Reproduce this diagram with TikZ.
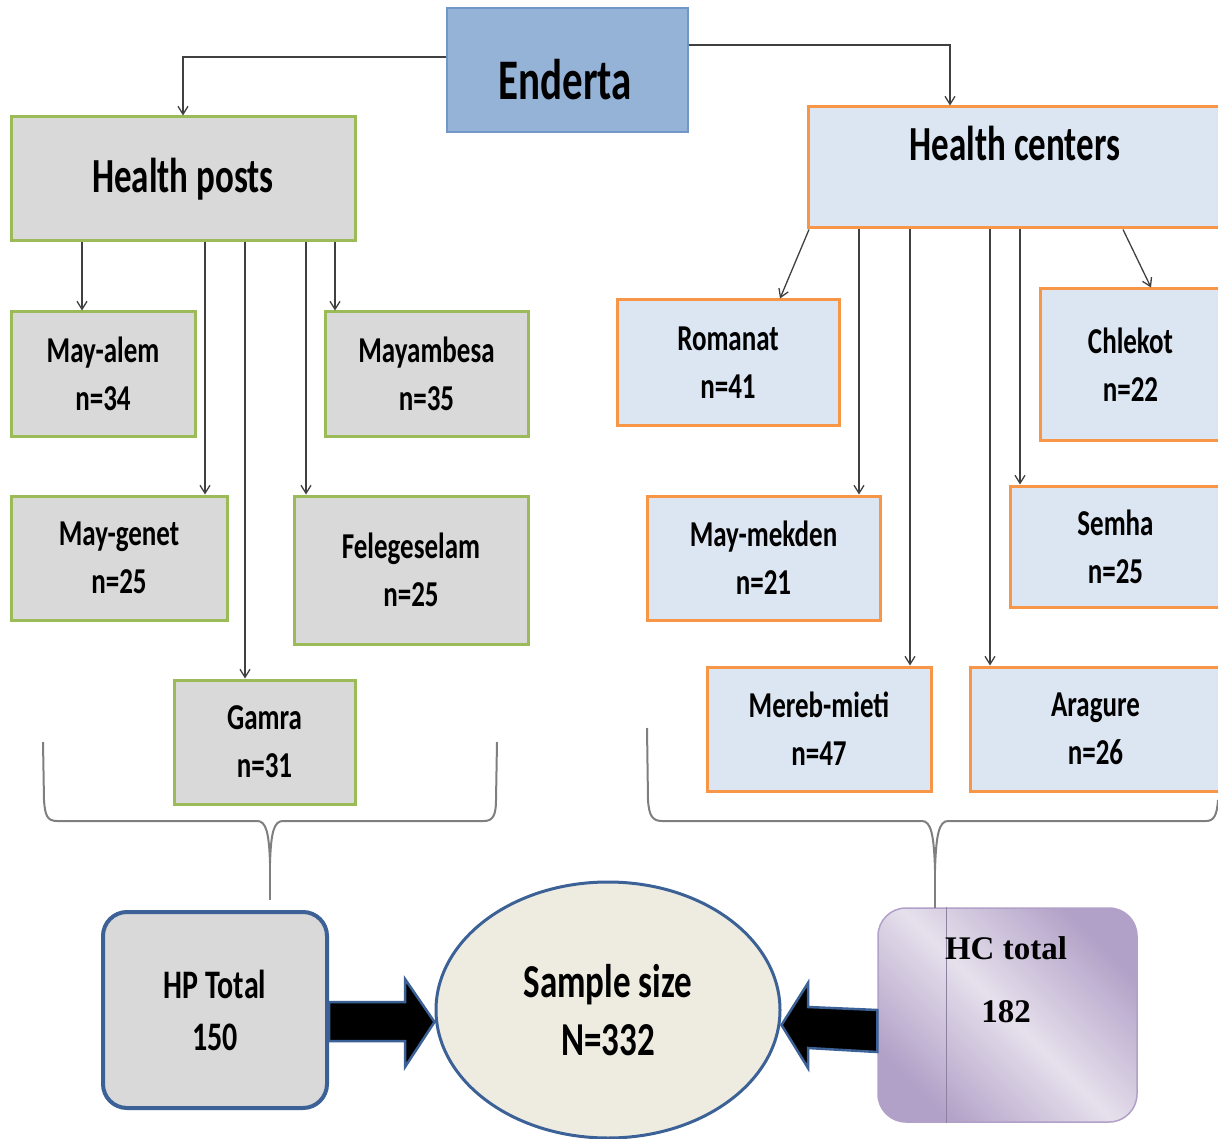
\documentclass[tikz,border=0pt]{standalone}
\usepackage{fontspec}
\setmainfont{Carlito}
\newfontfamily\hcserif{Liberation Serif}
\usepackage{graphicx}
\usetikzlibrary{arrows.meta,shapes.geometric}
\newcommand\vs[1]{\scalebox{1}[1.35]{#1}}
\definecolor{gfill}{HTML}{D9D9D9}
\definecolor{ggreen}{HTML}{9BBB59}
\definecolor{bfill}{HTML}{DCE6F2}
\definecolor{borange}{HTML}{F79646}
\definecolor{efill}{HTML}{95B3D7}
\definecolor{eline}{HTML}{7396C8}
\definecolor{arrgray}{HTML}{404040}
\definecolor{bracegray}{HTML}{7F7F7F}
\definecolor{dblue}{HTML}{3B6196}
\definecolor{ssfill}{HTML}{EEECE1}
\definecolor{plight}{HTML}{E6E0EC}
\definecolor{pdark}{HTML}{B1A0C7}
\tikzset{
  gbox/.style={draw=ggreen, line width=3pt, fill=gfill, inner sep=0pt, align=center, font=\bfseries\fontsize{27}{48}\selectfont},
  obox/.style={draw=borange, line width=3pt, fill=bfill, inner sep=0pt, align=center, font=\bfseries\fontsize{27}{48}\selectfont},
  arr/.style={draw=arrgray, line width=1.3pt, -{Straight Barb[length=8pt,width=10pt]}},
  bracel/.style={draw=bracegray, line width=2pt},
  blk/.style={fill=black, draw=dblue, line width=2.5pt, line join=miter},
}
\begin{document}
\begin{tikzpicture}[x=1pt,y=-1pt]
\useasboundingbox (0,0) rectangle (1218,1139);
\clip (0,0) rectangle (1218,1139);
% top
\node[draw=eline, line width=1.5pt, fill=efill, minimum width=241pt, minimum height=124pt, inner sep=0pt] (ender) at (567.5,70) {};
\node[font=\bfseries\fontsize{41}{50}\selectfont] (enderT) at (565,80) {\scalebox{1}[1.4]{Enderta}};
\node[gbox, minimum width=344pt, minimum height=124pt, font=\bfseries\fontsize{35}{44}\selectfont] (hp) at (183,179) {\scalebox{1}[1.4]{Health posts}};
\node[obox, minimum width=413pt, minimum height=121pt] (hc) at (1014.5,167.5) {};
\node[font=\bfseries\fontsize{35}{44}\selectfont] (hcT) at (1015,143) {\scalebox{1}[1.4]{Health centers}};
% health posts
\node[gbox, minimum width=184pt, minimum height=124pt] (mayalem) at (103,374) {\vs{May-alem}\\\vs{n=34}};
\node[gbox, minimum width=203pt, minimum height=124pt] (mayamb) at (426.5,374) {\vs{Mayambesa}\\\vs{n=35}};
\node[gbox, minimum width=216pt, minimum height=124pt] (maygenet) at (119,558) {\vs{May-genet}\\\vs{n=25}};
\node[gbox, minimum width=234pt, minimum height=148pt] (feleg) at (411,570) {\vs{Felegeselam}\\\vs{n=25}};
\node[gbox, minimum width=181pt, minimum height=124pt] (gamra) at (264.5,742) {\vs{Gamra}\\\vs{n=31}};
% health centers
\node[obox, minimum width=222pt, minimum height=125pt] (romanat) at (728,362.5) {\vs{Romanat}\\\vs{n=41}};
\node[obox, minimum width=181pt, minimum height=151pt] (chlekot) at (1130.5,364.5) {\vs{Chlekot}\\\vs{n=22}};
\node[obox, minimum width=233pt, minimum height=124pt] (maymek) at (763.5,558) {\vs{May-mekden}\\\vs{n=21}};
\node[obox, minimum width=211pt, minimum height=121pt] (semha) at (1115.5,546.5) {\vs{Semha}\\\vs{n=25}};
\node[obox, minimum width=224pt, minimum height=124pt] (mereb) at (819,729) {\vs{Mereb-mieti}\\\vs{n=47}};
\node[obox, minimum width=251pt, minimum height=124pt] (aragure) at (1095.5,729) {\vs{Aragure}\\\vs{n=26}};
% connectors top
\draw[arr] ([yshift=13pt]ender.west) -| (hp.north);
\draw[arr] ([yshift=25pt]ender.east) -| (hc.north -| 950,0);
\draw[arr] (hp.south -| 82,0) -- (mayalem.north -| 82,0);
\draw[arr] (hp.south -| 205,0) -- (maygenet.north -| 205,0);
\draw[arr] (hp.south -| 245,0) -- (gamra.north -| 245,0);
\draw[arr] (hp.south -| 306,0) -- (feleg.north -| 306,0);
\draw[arr] (hp.south -| 335,0) -- (mayamb.north -| 335,0);
\draw[arr] (hc.south -| 809,0) -- (romanat.north -| 780,0);
\draw[arr] (hc.south -| 859,0) -- (maymek.north -| 859,0);
\draw[arr] (hc.south -| 910,0) -- (mereb.north -| 910,0);
\draw[arr] (hc.south -| 990,0) -- (aragure.north -| 990,0);
\draw[arr] (hc.south -| 1020,0) -- (semha.north -| 1020,0);
\draw[arr] (hc.south -| 1123,0) -- (chlekot.north -| 1151,0);
% bottom nodes
\node[draw=dblue, line width=4pt, fill=gfill, rounded corners=24pt, minimum width=224pt, minimum height=196pt, inner sep=0pt, align=center, font=\bfseries\fontsize{30}{52}\selectfont] (hpt) at (215,1010) {\vs{HP Total}\\\vs{150}};
\node[ellipse, draw=dblue, line width=3pt, fill=ssfill, minimum width=344pt, minimum height=256pt, inner sep=0pt, align=center, font=\bfseries\fontsize{35}{58}\selectfont] (ss) at (608,1010) {\vs{Sample size}\\\vs{N=332}};
\node[draw=pdark, line width=1.5pt, rounded corners=28pt, minimum width=259pt, minimum height=214pt, inner sep=0pt, top color=pdark, bottom color=pdark, middle color=plight, shading angle=-45] (hct) at (1007.5,1015) {};
\draw[draw=pdark!80!black, line width=0.6pt] (hct.north -| 946,0) -- (hct.south -| 946,0);
\node[font=\hcserif\bfseries\fontsize{33}{40}\selectfont] (hctA) at (1006,948) {HC total};
\node[font=\hcserif\bfseries\fontsize{33}{40}\selectfont] (hctB) at (1006,1012) {182};
% block arrows
\draw[blk] (hpt.east |- 0,1002) -- (405,1002) -- (405,979) -- (ss.west |- 0,1022) -- (405,1067) -- (405,1041) -- (hpt.east |- 0,1041) -- cycle;
\draw[blk] (hct.west |- 0,1010) -- (808,1007) -- (808,983) -- (ss.east |- 0,1025) -- (808,1068) -- (808,1048) -- (hct.west |- 0,1052) -- cycle;
% braces
\draw[bracel] (43,742) -- (44,800) .. controls (45,815) and (47,821) .. (57,821) -- (257,821) .. controls (266,821) and (269,832) .. (270,863) .. controls (271,832) and (274,821) .. (283,821) -- (484,821) .. controls (493,821) and (496,815) .. (496,800) -- (497,742);
\draw[bracel] (270,863) -- (270,900);
\draw[bracel] (647,728) -- (648,800) .. controls (649,815) and (652,821) .. (662,821) -- (922,821) .. controls (931,821) and (934,835) .. (935,870) .. controls (936,835) and (939,821) .. (948,821) -- (1206,821) .. controls (1214,821) and (1217,815) .. (1218,800);
\draw[bracel] (935,870) -- (935,908);
\end{tikzpicture}
\end{document}
